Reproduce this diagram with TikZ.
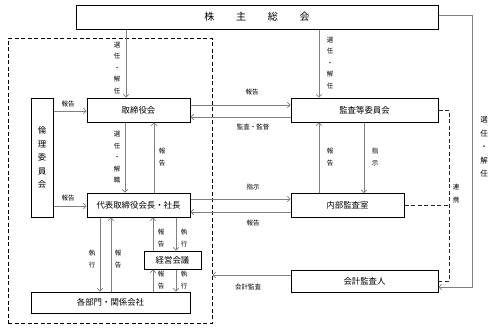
\documentclass[tikz,border=0pt]{standalone}
\usepackage{fontspec}
\setmainfont{Noto Sans CJK JP}
\usetikzlibrary{arrows.meta}
\definecolor{lgray}{RGB}{128,128,128}
\begin{document}
\begin{tikzpicture}[x=1pt,y=-1pt,
  box/.style={draw=black, line width=1pt, fill=white, inner sep=0pt, font=\fontsize{8.4}{10}\selectfont},
  conn/.style={draw=lgray, line width=0.7pt, -{Straight Barb[length=2.6pt,width=5.5pt]}},
  dline/.style={draw=black!85, line width=0.9pt, dash pattern=on 4pt off 2.5pt},
  lbl/.style={font=\fontsize{6.5}{11.5}\selectfont, inner sep=0pt, align=center},
  ]
\fill[white] (0,0) rectangle (500,330);
\useasboundingbox (0,0) rectangle (500,330);

% group (dashed)
\node[draw=black, line width=1pt, dash pattern=on 4pt off 2.5pt, minimum width=204pt, minimum height=285pt, inner sep=0pt] (grp) at (110,180.5) {};

% boxes
\node[box, minimum width=362pt, minimum height=24pt, font=\fontsize{10}{12}\selectfont] (sh) at (257,17) {株\hspace{21.7pt}主\hspace{21.7pt}総\hspace{21.7pt}会};
\node[box, minimum width=103pt, minimum height=24pt] (tori) at (138.5,110) {取締役会};
\node[box, minimum width=147pt, minimum height=24pt] (kansa) at (364.5,110) {監査等委員会};
\node[box, minimum width=22pt, minimum height=119pt, align=center, font=\fontsize{8.4}{13.5}\selectfont] (rinri) at (42,157.5) {倫\\理\\委\\員\\会};
\node[box, minimum width=103pt, minimum height=24pt] (daihyo) at (138.5,205) {代表取締役会長・社長};
\node[box, minimum width=113pt, minimum height=24pt] (naibu) at (347.5,205.5) {内部監査室};
\node[box, minimum width=57pt, minimum height=18pt] (keiei) at (172.5,260) {経営会議};
\node[box, minimum width=159pt, minimum height=21pt] (kakubu) at (110.5,302.5) {各部門・関係会社};
\node[box, minimum width=147pt, minimum height=22pt] (kaikei) at (364.5,281) {会計監査人};

% x / y reference coordinates
\coordinate (v126) at (126,0);
\coordinate (v125) at (125,0);
\coordinate (v154) at (154,0);
\coordinate (v319) at (319,0);
\coordinate (v364) at (364,0);
\coordinate (v100) at (100,0);
\coordinate (v111) at (111,0);
\coordinate (v153) at (153,0);
\coordinate (v176) at (176,0);
\coordinate (h105) at (0,105);
\coordinate (h117) at (0,117);
\coordinate (h111) at (0,111);
\coordinate (h206) at (0,206);
\coordinate (h199) at (0,199);
\coordinate (h212) at (0,212);
\coordinate (h275) at (0,275);
\coordinate (r1) at (472,15);
\coordinate (r2) at (472,287);
\coordinate (d1) at (449,110);
\coordinate (d2) at (449,281);

% vertical connectors
\draw[conn] (sh.south -| v126) -- (tori.north -| v126);
\node[lbl] (l1) at (117,68) {選\\任\\・\\解\\任};
\draw[conn] (sh.south -| v319) -- (kansa.north -| v319);
\node[lbl] (l2) at (330,63) {選\\任\\・\\解\\任};
\draw[conn] (tori.south -| v125) -- (daihyo.north -| v125);
\node[lbl] (l3) at (117,157.5) {選\\任\\・\\解\\職};
\draw[conn] (daihyo.north -| v154) -- (tori.south -| v154);
\node[lbl] (l4) at (162,157) {報\\告};
\draw[conn] (kansa.south -| v364) -- (naibu.north -| v364);
\node[lbl] (l5) at (375,157) {指\\示};
\draw[conn] (naibu.north -| v319) -- (kansa.south -| v319);
\node[lbl] (l6) at (330,157) {報\\告};
\draw[conn] (daihyo.south -| v100) -- (kakubu.north -| v100);
\node[lbl] (l7) at (92,259) {執\\行};
\draw[conn] (kakubu.north -| v111) -- (daihyo.south -| v111);
\node[lbl] (l8) at (118,259) {報\\告};
\draw[conn] (keiei.north -| v153) -- (daihyo.south -| v153);
\node[lbl] (l9) at (161,238) {報\\告};
\draw[conn] (daihyo.south -| v176) -- (keiei.north -| v176);
\node[lbl] (l10) at (184,238) {執\\行};
\draw[conn] (kakubu.north -| v153) -- (keiei.south -| v153);
\node[lbl] (l11) at (161,280) {報\\告};
\draw[conn] (keiei.south -| v176) -- (kakubu.north -| v176);
\node[lbl] (l12) at (184,280) {執\\行};

% horizontal connectors
\draw[conn] (rinri.east |- h111) -- (tori.west |- h111);
\node[lbl] (l13) at (68,104) {報告};
\draw[conn] (rinri.east |- h206) -- (daihyo.west |- h206);
\node[lbl] (l14) at (68,198.5) {報告};
\draw[conn] (tori.east |- h105) -- (kansa.west |- h105);
\node[lbl] (l15) at (252,92) {報告};
\draw[conn] (kansa.west |- h117) -- (tori.east |- h117);
\node[lbl] (l16) at (253,127) {監査・監督};
\draw[conn] (daihyo.east |- h199) -- (naibu.west |- h199);
\node[lbl] (l17) at (253,187) {指示};
\draw[conn] (naibu.west |- h212) -- (daihyo.east |- h212);
\node[lbl] (l18) at (253,223) {報告};
\draw[conn] (kaikei.west |- h275) -- (grp.east |- h275);
\node[lbl] (l19) at (248,287) {会計監査};

% right side
\draw[conn] (sh.east |- r1) -- (r1) -- (r2) -- (kaikei.east |- r2);
\node[lbl, font=\fontsize{7.5}{13.5}\selectfont] (l20) at (484,147) {選\\任\\・\\解\\任};
\draw[dline] (kansa.east) -- (d1) -- (d2) -- (kaikei.east |- d2);
\draw[dline] (naibu.east) -- (naibu.east -| d1);
\node[lbl, font=\fontsize{6.5}{13}\selectfont] (l21) at (456,194) {連\\携};
\end{tikzpicture}
\end{document}
